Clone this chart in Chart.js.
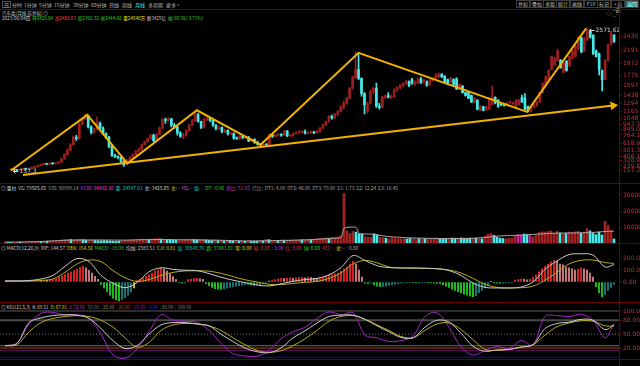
<!DOCTYPE html>
<html>
<head>
<meta charset="utf-8">
<title>汽车类 月线</title>
<script src="https://cdn.jsdelivr.net/npm/chart.js@4.4.1/dist/chart.umd.min.js"></script>
<style>
html, body { margin: 0; padding: 0; background: #000; }
body { position: relative; width: 640px; height: 366px; overflow: hidden;
       font-family: "Noto Sans CJK SC", "DejaVu Sans", sans-serif; }
.wrap { position: absolute; left: 0; width: 640px; }
.t { position: absolute; white-space: nowrap; font-size: 5px; line-height: 5px; color: #c8c8c8; }
.hl { position: absolute; left: 0; width: 640px; height: 1px; background: #700000; z-index: 2; }
.vl { position: absolute; top: 9px; left: 619px; width: 1px; height: 357px; background: #700000; z-index: 2; }
.btn { position: absolute; top: 0; height: 8px; box-sizing: border-box; border: 1px solid #3c3c3c;
       font-size: 5px; line-height: 6px; color: #c0c0c0; text-align: center; }
</style>
</head>
<body>
<div id="labels"></div>
<div class="hl" style="top:9px"></div>
<div class="hl" style="top:183px"></div>
<div class="hl" style="top:243px"></div>
<div class="hl" style="top:302px"></div>
<div class="hl" style="top:359px"></div>
<div class="vl"></div>
<div class="wrap" style="top:19px;height:164px"><canvas id="mainChart"></canvas></div>
<div class="wrap" style="top:191px;height:52px"><canvas id="volChart"></canvas></div>
<div class="wrap" style="top:249px;height:53px"><canvas id="macdChart"></canvas></div>
<div class="wrap" style="top:309px;height:57px"><canvas id="kdjChart"></canvas></div>
<script>
// monthly candles, 2006/09 .. 2023/08
const OPEN = [
    180,185,172,165,178,190,186,198,215,228, 245,262,275,268,282,276,290,305,360,430,
    510,600,727,700,946,1040,1087,900,805,860, 962,884,790,727,570,414,398,383,320,257,
    336,380,430,492,520,602,649,700,760,670, 774,880,1020,1010,1035,930,900,800,740,760,
    837,931,1009,1110,993,890,1030,1040,1010,930, 870,890,820,840,780,790,710,700,740,720,
    730,660,690,640,605,590,600,600,770,740, 760,770,760,830,750,755,790,800,815,820,
    790,800,810,800,820,880,930,990,1080,1050, 1120,1160,1240,1300,1385,1550,1740,1870,1720,1464,
    1160,1300,1500,1550,1250,1230,1400,1430,1400,1410, 1530,1560,1600,1636,1667,1699,1620,1640,1714,1650,
    1660,1620,1690,1710,1740,1793,1760,1700,1660,1699, 1714,1542,1589,1480,1479,1432,1307,1354,1181,1244,
    1197,1197,1275,1401,1354,1290,1290,1260,1307,1290, 1244,1275,1400,1385,1244,1166,1228,1260,1322,1480,
    1600,1700,1871,1950,2028,2028,1824,2012,1934,2059, 2090,2216,2404,2184,2372,2529,2451,2184,2137,1855,
    1714,2028,2294,2451
];
const CLOSE = [
    185,172,165,178,190,186,198,215,228,245, 262,275,268,282,276,290,305,360,430,510,
    600,727,700,946,1040,1087,900,805,860,962, 884,790,727,570,414,398,383,320,257,336,
    380,430,492,520,602,649,700,760,670,774, 880,1020,1010,1035,930,900,800,740,760,837,
    931,1009,1110,993,890,1030,1040,1010,930,870, 890,820,840,780,790,710,700,740,720,730,
    660,690,640,605,590,600,595,770,740,760, 770,760,830,750,755,790,800,815,820,790,
    800,810,800,820,880,930,990,1080,1050,1120, 1160,1240,1300,1385,1550,1740,1870,1720,1464,1275,
    1300,1500,1550,1250,1230,1400,1430,1400,1410,1530, 1560,1600,1636,1667,1600,1640,1660,1700,1650,1690,
    1600,1690,1710,1780,1793,1746,1667,1640,1730,1620, 1542,1620,1479,1430,1385,1322,1385,1197,1244,1181,
    1244,1385,1401,1307,1244,1275,1260,1307,1322,1307, 1354,1354,1322,1197,1166,1228,1275,1322,1480,1636,
    1750,1855,2090,2060,2184,1902,1981,1855,2090,2184, 2263,2419,2169,2404,2529,2420,2137,2090,1871,1699,
    2028,2294,2482,2341
];
const HIGH = [
    200,190,178,185,198,200,205,222,240,255, 272,290,285,290,292,298,315,370,445,530,
    620,740,760,960,1060,1119,1100,920,880,1070, 980,900,800,740,590,440,410,395,330,350,
    400,445,505,540,615,665,715,775,775,790, 900,1040,1050,1060,1045,960,910,820,790,850,
    950,1030,1166,1130,1000,1045,1070,1050,1020,940, 910,900,860,850,810,800,730,760,760,745,
    735,710,700,660,620,610,615,790,780,775, 790,785,845,840,770,800,815,840,835,850,
    815,830,825,840,890,950,1000,1090,1100,1130, 1180,1255,1340,1400,1570,1760,2169,2150,1730,1480,
    1320,1520,1580,1640,1300,1420,1440,1480,1440,1545, 1580,1620,1650,1690,1680,1720,1680,1720,1740,1710,
    1680,1700,1730,1800,1810,1800,1770,1710,1740,1714, 1730,1630,1600,1490,1490,1440,1400,1360,1260,1250,
    1250,1400,1589,1410,1360,1300,1300,1315,1340,1320, 1360,1360,1440,1464,1250,1240,1290,1330,1490,1650,
    1760,1870,2100,2080,2216,2040,1990,2020,2100,2200, 2280,2430,2420,2420,2572,2545,2460,2200,2150,1860,
    2040,2300,2500,2460
];
const LOW = [
    170,165,157,160,172,180,182,194,210,222, 240,255,258,262,268,270,285,300,350,420,
    495,590,670,690,930,1020,880,780,790,850, 860,770,700,550,400,380,360,300,230,250,
    320,370,420,480,505,590,635,690,650,660, 765,870,960,990,900,870,760,720,700,740,
    820,915,990,980,870,880,1000,990,910,850, 850,800,800,760,765,690,690,690,700,700,
    650,650,620,590,575,580,585,595,720,735, 745,740,750,735,740,745,780,790,800,780,
    780,790,785,790,805,870,920,980,1030,1040, 1090,1150,1200,1280,1370,1540,1710,1700,1420,1119,
    1130,1290,1460,1230,1200,1220,1380,1390,1380,1400, 1500,1540,1580,1620,1580,1620,1600,1630,1630,1640,
    1590,1600,1670,1700,1730,1730,1640,1620,1640,1600, 1530,1530,1470,1420,1380,1310,1300,1190,1170,1170,
    1180,1190,1270,1290,1230,1260,1250,1255,1300,1280, 1240,1270,1310,1190,1150,1150,1220,1250,1310,1470,
    1590,1690,1860,1940,2010,1890,1810,1840,1920,2050, 2080,2200,2150,2170,2360,2400,2120,2080,1777,1510,
    1700,2010,2280,2330
];
const VOLUME = [
    600,500,450,400,500,550,600,700,800,900, 1000,1100,900,950,1000,1050,1100,1300,1600,1900,
    2100,2300,2200,2000,2300,2400,2100,1800,1700,1900, 1600,1400,1300,1500,1400,1200,1100,1000,1200,1400,
    1500,1700,1900,2000,2200,2300,2400,2300,2000,2400, 2600,2800,2500,2300,2100,2000,1900,1700,1600,1800,
    1900,2100,2400,2200,2000,2100,2000,1900,1700,1600, 1500,1500,1400,1300,1300,1400,1200,1200,1300,1200,
    1100,1200,1100,1000,1000,1100,1200,2300,2100,1800, 1700,1600,1900,1800,1700,1800,2000,1900,2000,2100,
    2200,2300,2100,2400,2600,2800,3000,3300,3000,3600, 3400,3800,4500,31000,7500,6000,7200,6800,5800,5600,
    4000,3800,3600,5800,5200,3600,3400,3000,2600,3200, 3000,2800,2600,2700,2500,2800,2600,2400,2700,2500,
    2600,2400,2800,3000,3200,2900,2700,2500,2600,3100, 3000,2800,3200,3000,2900,3100,2800,3000,2900,2600,
    4200,5500,6000,4800,3600,3000,2800,2600,2900,3100, 4500,5200,5000,5600,5400,4600,3800,5000,6500,7000,
    6800,7200,7500,6000,7400,6200,5600,6000,6800,6500, 7000,7400,6200,6800,9000,7600,6000,5200,6800,5000,
    13500,11000,8000,2500
];
const VOL_MAGENTA = [171, 172, 175];
const VOL_MA_IDX = [0, 10, 20, 30, 40, 50, 60, 70, 80, 90, 100, 108, 112, 113, 117, 118, 122, 128, 135, 145,
    155, 160, 165, 172, 178, 184, 190, 196, 200, 203];
const VOL_MA = [500, 800, 1700, 1900, 1800, 2200, 2000, 1800, 1300, 1500, 1900, 2800, 3600, 9200, 9800, 6000,
    5500, 4000, 3200, 2800, 2900, 3500, 4400, 4900, 5600, 6200, 6300, 6600, 7200, 7400];
const MACD_HIST = [
    0,1,2,3,4,5,6,8,10,12, 14,16,15,17,16,18,20,28,40,52,
    62,75,85,95,108,120,130,118,98,75, 48,22,-20,-50,-80,-110,-135,-150,-158,-145,
    -130,-110,-85,-50,15,25,35,48,62,75, 90,102,115,108,90,70,45,20,-5,-10,
    -8,20,25,28,30,26,22,-15,-30,-45, -55,-60,-62,-58,-52,-45,-40,-35,-30,-26,
    -22,-20,-24,-28,-26,-22,-15,-5,8,15, 20,25,30,28,32,35,30,34,36,38,
    35,40,36,30,28,33,40,48,55,62, 68,75,90,110,125,150,175,150,100,40,
    -10,-12,-8,-25,-35,-40,-38,-34,-28,-22, -18,-14,-10,-8,-6,-5,-6,-8,-7,-6,
    -5,-6,-8,-10,-12,-15,-22,-35,-45,-60, -70,-80,-92,-102,-110,-118,-122,-115,-90,-70,
    -50,-30,5,-8,-10,-12,-10,-8,-6,-4, 15,20,25,22,18,25,40,60,85,110,
    130,150,168,183,175,150,142,125,117,110, 100,105,117,110,100,75,40,-40,-90,-125,
    -105,-70,-45,-20
];
const CROSS_IDX = [43, 88, 162];
// indicator lines read every 4 months
const LINE_IDX = [0,4,8,12,16,20,24,28,32,36,40,44,48,52,56,60,64,68,72,76,80,84,88,92,96,100,
    104,108,112,116,120,124,128,132,136,140,144,148,152,156,160,164,168,172,176,180,184,188,192,196,200,203];
const DIF = [10,10,12,25,55,130,195,170,55,-10,-48,-5,85,118,105,98,95,70,40,15,-5,-25,-33,-15,5,20,
    30,60,120,220,180,136,120,117,117,115,110,95,55,-10,-45,-50,-50,-42,0,105,175,228,235,225,125,145];
const DEA = [5,5,8,12,25,80,150,183,170,95,35,5,20,55,80,92,93,90,72,45,18,0,-20,-22,-12,-3,
    5,30,75,150,180,160,125,117,115,113,111,100,75,30,-20,-45,-50,-48,-35,15,80,150,180,183,162,155];
const K = [25,30,75,85,90,92,91,84,62,36,19,25,50,70,75,75,72,68,50,34,20,12,10,20,42,57,
    74,88,91,91,82,68,55,43,42,65,80,76,52,24,13,16,17,22,27,62,73,76,82,80,60,69.5];
const D = [25,27,55,75,84,88,90,88,80,65,42,22,32,58,70,73,72,68,58,42,27,15,11,14,25,40,
    58,78,88,90,82,70,58,45,42,58,72,74,60,38,17,15,17,22,27,48,66,74,79,78,68,67.8];
const J = [25,30,72,95,97,91,92,84,50,5,-2,18,55,92,80,78,75,58,30,8,3,2,15,40,55,65,
    84,98,92,96,48,42,34,36,46,88,96,65,22,5,15,23,19,36,27,88,90,88,93,80,42,72.9];
const KDJ_LEVELS = [100, 80, 50, 25, 20, 15, 0];

const MAIN_TICKS = [2435, 2191, 1972, 1775, 1597, 1438, 1294, 1165, 1048, 943.3, 849.0, 764.1, 618.9, 501.3, 406.1, 328.9, 239.8, 157.3];
const MAIN_TICK_LABELS = ["2435", "2191", "1972", "1775", "1597", "1438", "1294", "1165", "1048", "943.3", "849.0", "764.1", "618.9", "501.3", "406.1", "328.9", "239.8", "157.3"];
const VOL_TICKS = [30000, 20000, 10000];
const MACD_TICKS = [200, 100, 0];
const MACD_TICK_LABELS = ["200.0", "100.0", "0.00"];
const KDJ_TICKS = [100, 80, 50, 20];
const KDJ_TICK_LABELS = ["100.00", "80.00", "50.00", "20.00"];
const XTICK_IDX = [0,7,11,15,19,23,27,31,35,39,43,47,51,55,59,63,67,71,75,79,83,87,91,95,99,103,107,111,115,
    119,123,127,131,135,139,143,147,151,155,159,163,167,171,175,179,183,187,191,195,199,203];
const XTICK_LABELS = ["2006/09","4","8","12","4","8","12","4","8","12","4","8","12","4","8","12","4","8","12",
    "4","8","12","4","8","12","4","8","12","4","8","12","4","8","12","4","8","12","4","8","12","4","8","12",
    "4","8","12","4","8","12","4","8"];

// hand-drawn trend lines (candle index, price)
const TREND_IDX = [0, 25.7, 39.2, 62.6, 84, 117, 173.7, 193.6];
const TREND_VAL = [163, 1103, 283, 1181, 597, 2153, 1155, 2565];
const SUPPORT_IDX = [4, 202.7];
const SUPPORT_VAL = [85, 1260];
const HILO_IDX = [194, 0];
const HILO_VAL = [2571.62, 157.3];
const HILO_TEXT = ["2571.62", "157.3"];

const X_MIN = -1.67;
const X_MAX = 204.67;
const UP = "#9c1e1e";
const DOWN = "#46eaea";
const GOLD = "#f2b200";

Chart.defaults.font.family = '"DejaVu Sans", sans-serif';

// ---------- text labels around the charts ----------
const labelBox = document.getElementById("labels");
function addText(x, y, text, color, extra) {
    const el = document.createElement("div");
    el.className = "t";
    el.style.left = x + "px";
    el.style.top = y + "px";
    el.style.color = color || "#c8c8c8";
    if (extra) Object.assign(el.style, extra);
    el.textContent = text;
    labelBox.appendChild(el);
    return el;
}
// one header row, squeezed to the width it has in the screenshot
function addLine(x, y, width, items) {
    const el = document.createElement("div");
    el.className = "t";
    el.style.left = x + "px";
    el.style.top = y + "px";
    el.style.transformOrigin = "0 0";
    items.forEach(([s, c]) => {
        const sp = document.createElement("span");
        sp.textContent = s;
        sp.style.color = c;
        sp.style.marginRight = "2px";
        el.appendChild(sp);
    });
    labelBox.appendChild(el);
    const w = el.getBoundingClientRect().width;
    el.style.transform = "scaleX(" + (width / w).toFixed(3) + ")";
}

[[12, "分时"], [24, "1分钟"], [39, "5分钟"], [54, "15分钟"], [73, "30分钟"], [91, "60分钟"],
 [109, "日线"], [122, "周线"], [135, "月线"], [148, "多周期"], [166, "更多 >"]].forEach(([x, s]) => {
    addText(x, 2, s, s === "月线" ? "#2ee6e6" : "#b8b8b8");
});
addText(2, 1, "日", "#b8b8b8", { border: "1px solid #555", padding: "0 1px", lineHeight: "5px" });
[[516, "复权"], [530, "叠加"], [543, "多股"], [556, "统计"], [570, "画线"], [584, "F10"], [597, "标记"],
 [611, "+自选"], [625, "返回"]].forEach(([x, s]) => {
    const el = document.createElement("div");
    el.className = "btn";
    el.style.left = x + "px";
    el.style.width = "14px";
    if (s === "返回") { el.style.background = "#137a7a"; el.style.color = "#e0ffff"; }
    el.textContent = s;
    labelBox.appendChild(el);
});
addText(606, 10, "◇ ▢", "#a0a0a0");

addLine(2, 10, 48, [["汽车类(月线 前复权) ◎", "#c0c0c0"]]);
addLine(2, 15, 203, [["2023/08/04四", "#c8c8c8"], ["开2429.84", "#30d030"], ["高2488.03", "#ff4040"],
    ["低2382.32", "#30d030"], ["收2444.42", "#30d030"], ["量24548万", "#e0e020"],
    ["额3425亿", "#c8c8c8"], ["幅-90.38(-3.71%)", "#30d030"]]);
addLine(1, 185, 399, [["◎ 量柱", "#d0d0d0"], ["VS: 79565.65", "#d0d0d0"], ["V35: 58999.14", "#a0a0a0"],
    ["V135: 34482.36", "#e040e0"], ["量: 24547.91", "#20c0c0"], ["金: 3425.05", "#d0d0d0"],
    ["金: -", "#c8c820"], ["HS: -", "#e040e0"], ["值: -", "#20d0d0"], ["DF: -0.06", "#30d030"],
    ["趋比: 51.95", "#b040d0"], ["行比:", "#909090"], ["DT1: 4.00", "#a0a0a0"], ["DT2: 46.00", "#a0a0a0"],
    ["DT3: 79.00", "#a0a0a0"], ["S1: 1.73", "#a0a0a0"], ["S2: 12.24", "#a0a0a0"], ["S3: 16.45", "#a0a0a0"]]);
addLine(1, 245, 359, [["◎ MACD(12,26,9)", "#d0d0d0"], ["DIF: 144.57", "#d0d0d0"], ["DEA: 154.56", "#d8d820"],
    ["MACD: -19.98", "#30d030"], ["均线: 2383.51", "#d0d0d0"], ["CJI: 0.81", "#d8d820"],
    ["涨: 30848.76", "#20c0c0"], ["跌: 37661.01", "#30d030"], ["零: 0.00", "#d8d820"],
    ["缩: 0.00", "#d04040"], [": 0.00", "#b040d0"], ["红: 0.00", "#d04040"], ["绿: 0.00", "#30d030"],
    ["421: -", "#d04040"], ["金: -", "#d8d820"], [": 0.00", "#a0a0a0"]]);
addLine(1, 304, 192, [["◎ KDJ(21,5,3)", "#d0d0d0"], ["K: 69.51", "#d0d0d0"], ["D: 67.81", "#d8d820"],
    ["J: 72.91", "#c040d0"], [" 50.00", "#707070"], [": 25.00", "#a08060"], [": 20.00", "#a05020"],
    [": 15.00", "#a020a0"], [": 0.00", "#3030e0"], [": 80.00", "#808080"], [": 100.00", "#808080"]]);

// ---------- shared scale helpers ----------
function xAxis() {
    return { type: "linear", min: X_MIN, max: X_MAX, offset: false, display: false };
}
function rightAxis(min, max, ticks, labels) {
    return {
        position: "right",
        min: min,
        max: max,
        afterFit: (axis) => { axis.width = 21; axis.paddingTop = 0; axis.paddingBottom = 0; },
        afterBuildTicks: (axis) => { axis.ticks = ticks.map((v) => ({ value: v })); },
        ticks: {
            color: "#c83232",
            font: { size: 6 },
            padding: 1,
            autoSkip: false,
            callback: (v, i) => labels[i]
        },
        grid: { drawOnChartArea: false, drawTicks: true, tickLength: 3, color: "#7a0000" },
        border: { display: true, color: "#7a0000" }
    };
}
const baseOptions = {
    responsive: true,
    maintainAspectRatio: false,
    animation: false,
    events: [],
    layout: { padding: 0 },
    plugins: { legend: { display: false }, tooltip: { enabled: false } }
};
function points(idx, vals) {
    return idx.map((x, k) => ({ x: x, y: vals[k] }));
}

// ---------- main candle chart ----------
const candleColors = CLOSE.map((c, i) => (c >= OPEN[i] ? UP : DOWN));
const wicks = LOW.map((l, i) => ({ x: i, y: [l, HIGH[i]] }));
const bodies = OPEN.map((o, i) => ({ x: i, y: [Math.min(o, CLOSE[i]), Math.max(o, CLOSE[i])] }));

const hiLoPlugin = {
    id: "hiLo",
    afterDatasetsDraw(chart) {
        const { ctx, scales } = chart;
        ctx.save();
        ctx.font = '6px "DejaVu Sans"';
        ctx.fillStyle = "#d8d8d8";
        ctx.strokeStyle = "#d8d8d8";
        ctx.lineWidth = 1;
        ctx.textBaseline = "middle";
        HILO_IDX.forEach((idx, k) => {
            const px = Math.round(scales.x.getPixelForValue(idx)) + 2.5;
            const py = Math.round(scales.y.getPixelForValue(HILO_VAL[k])) + (k === 0 ? 2.5 : 0.5);
            ctx.beginPath();
            ctx.moveTo(px, py);
            ctx.lineTo(px + 5, py);
            ctx.moveTo(px, py);
            ctx.lineTo(px + 2, py - 2);
            ctx.moveTo(px, py);
            ctx.lineTo(px + 2, py + 2);
            ctx.stroke();
            ctx.fillText(HILO_TEXT[k], px + 6, py);
        });
        ctx.restore();
    }
};

new Chart(document.getElementById("mainChart"), {
    type: "bar",
    data: {
        datasets: [
            { type: "line", data: points(TREND_IDX, TREND_VAL), borderColor: GOLD, borderWidth: 2,
              pointRadius: 0, tension: 0, order: 0 },
            { type: "line", data: points(SUPPORT_IDX, SUPPORT_VAL), borderColor: GOLD, borderWidth: 2,
              pointRadius: [0, 3], pointStyle: "triangle", rotation: 83, pointBackgroundColor: GOLD,
              pointBorderColor: GOLD, tension: 0, order: 0 },
            { data: wicks, backgroundColor: candleColors, barThickness: 1, grouped: false, order: 2 },
            { data: bodies, backgroundColor: candleColors, barThickness: 2, grouped: false, minBarLength: 1, order: 1 }
        ]
    },
    options: Object.assign({}, baseOptions, {
        scales: {
            x: xAxis(),
            y: rightAxis(53, 2623, MAIN_TICKS, MAIN_TICK_LABELS)
        }
    }),
    plugins: [hiLoPlugin]
});

// ---------- volume ----------
const volColors = VOLUME.map((v, i) => (VOL_MAGENTA.includes(i) ? "#c0209a" : candleColors[i] === UP ? "#a32222" : DOWN));
new Chart(document.getElementById("volChart"), {
    type: "bar",
    data: {
        datasets: [
            { type: "line", data: points(VOL_MA_IDX, VOL_MA), borderColor: "#a8a8a8", borderWidth: 1,
              pointRadius: 0, tension: 0.2, order: 0 },
            { data: VOLUME.map((v, i) => ({ x: i, y: v })), backgroundColor: volColors, barThickness: 2, order: 1 }
        ]
    },
    options: Object.assign({}, baseOptions, {
        scales: {
            x: xAxis(),
            y: rightAxis(0, 32500, VOL_TICKS, ["30000", "20000", "10000"])
        }
    })
});

// ---------- MACD ----------
const histColors = MACD_HIST.map((v, i) => {
    if (CROSS_IDX.includes(i)) return "#e8e800";
    const prev = i > 0 ? MACD_HIST[i - 1] : 0;
    if (v >= 0) return v >= prev ? "#ff2a2a" : "#f09090";
    return v <= prev ? "#22e022" : "#1e8c8c";
});
new Chart(document.getElementById("macdChart"), {
    type: "bar",
    data: {
        datasets: [
            { type: "line", data: points(LINE_IDX, DIF), borderColor: "#c8c8c8", borderWidth: 1,
              pointRadius: 0, tension: 0.35, order: 0 },
            { type: "line", data: points(LINE_IDX, DEA), borderColor: "#b4a81c", borderWidth: 1,
              pointRadius: 0, tension: 0.35, order: 0 },
            { data: MACD_HIST.map((v, i) => ({ x: i, y: v })), backgroundColor: histColors, barThickness: 1, order: 1 }
        ]
    },
    options: Object.assign({}, baseOptions, {
        scales: {
            x: xAxis(),
            y: rightAxis(-167, 275, MACD_TICKS, MACD_TICK_LABELS)
        }
    })
});

// ---------- KDJ ----------
const levelColors = ["#5a5a5a", "#4a4a4a", "#707070", "#7a6448", "#8a4a14", "#6a0a6a", "#1010b0"];
const levelSets = KDJ_LEVELS.map((lv, k) => ({
    type: "line",
    data: [{ x: X_MIN, y: lv }, { x: X_MAX, y: lv }],
    borderColor: levelColors[k],
    borderWidth: lv === 80 ? 2 : 1,
    borderDash: lv === 50 ? [1, 2] : [],
    pointRadius: 0,
    order: 3
}));
new Chart(document.getElementById("kdjChart"), {
    type: "line",
    data: {
        datasets: levelSets.concat([
            { data: points(LINE_IDX, J), borderColor: "#a024c0", borderWidth: 1, pointRadius: 0, tension: 0.35, order: 2 },
            { data: points(LINE_IDX, D), borderColor: "#b4a81c", borderWidth: 1, pointRadius: 0, tension: 0.35, order: 1 },
            { data: points(LINE_IDX, K), borderColor: "#c8c8c8", borderWidth: 1, pointRadius: 0, tension: 0.35, order: 0 }
        ])
    },
    options: Object.assign({}, baseOptions, {
        scales: {
            x: {
                type: "linear", min: X_MIN, max: X_MAX, offset: false, position: "bottom",
                afterFit: (axis) => { axis.height = 7; axis.paddingLeft = 0; axis.paddingRight = 0; },
                afterBuildTicks: (axis) => { axis.ticks = XTICK_IDX.map((v) => ({ value: v })); },
                ticks: {
                    autoSkip: false, maxRotation: 0, minRotation: 0, align: "start", padding: 0,
                    color: "#a0a0a0", font: { size: 5 },
                    callback: (v, i) => XTICK_LABELS[i]
                },
                grid: { display: false },
                border: { display: false }
            },
            y: rightAxis(-3.7, 104.3, KDJ_TICKS, KDJ_TICK_LABELS)
        }
    })
});
</script>
</body>
</html>
